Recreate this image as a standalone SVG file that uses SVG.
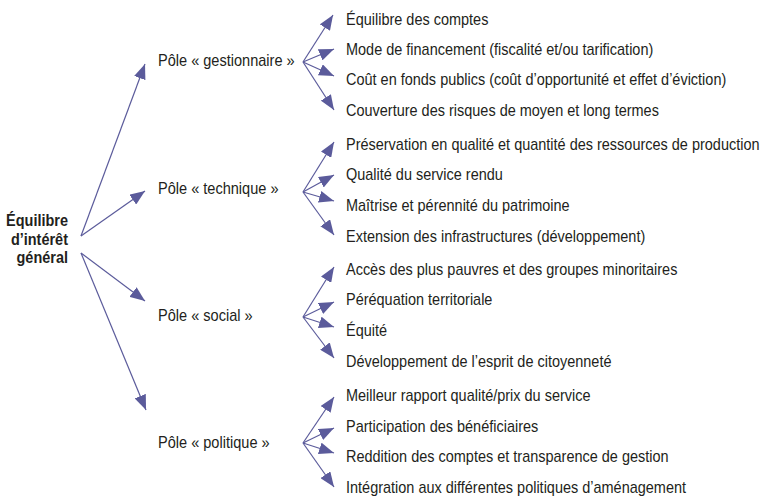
<svg xmlns="http://www.w3.org/2000/svg" width="763" height="499" viewBox="0 0 763 499">
<style>
.t{font-family:"Liberation Sans",Arial,sans-serif;font-size:16px;fill:#231f20}
.b{font-weight:bold;text-anchor:end}
.c line{stroke:#5b5b9b;stroke-width:1.2;marker-end:url(#ah)}
</style>
<defs>
<marker id="ah" viewBox="0 0 15 12" refX="15" refY="6" markerWidth="15" markerHeight="12" markerUnits="userSpaceOnUse" orient="auto">
<path d="M0,0 L15,6 L0,12 z" fill="#5b5b9b"/>
</marker>
</defs>
<rect width="763" height="499" fill="#fff"/>
<g id="connectors" class="c">
<line x1="81" y1="236" x2="145" y2="64"/>
<line x1="81" y1="236" x2="145" y2="191"/>
<line x1="81" y1="253" x2="145" y2="301"/>
<line x1="81" y1="253" x2="146" y2="410"/>
<line x1="303" y1="62" x2="333" y2="15"/>
<line x1="303" y1="62" x2="334" y2="49"/>
<line x1="303" y1="62" x2="334" y2="76"/>
<line x1="303" y1="62" x2="334" y2="110"/>
<line x1="303" y1="192" x2="334" y2="142"/>
<line x1="303" y1="192" x2="334" y2="175"/>
<line x1="303" y1="192" x2="334" y2="201"/>
<line x1="303" y1="192" x2="334" y2="235"/>
<line x1="303" y1="317" x2="334" y2="267"/>
<line x1="303" y1="317" x2="334" y2="302"/>
<line x1="303" y1="317" x2="334" y2="327"/>
<line x1="303" y1="317" x2="334" y2="358"/>
<line x1="303" y1="443" x2="334" y2="397"/>
<line x1="303" y1="443" x2="334" y2="428"/>
<line x1="303" y1="443" x2="334" y2="453"/>
<line x1="303" y1="443" x2="334" y2="487"/>
</g>
<g id="root" transform="translate(68,0) scale(0.905,1)">
<text class="t b" x="0" y="226.5">Équilibre</text>
<text class="t b" x="0" y="245">d’intérêt</text>
<text class="t b" x="0" y="263.5">général</text>
</g>
<g id="pole-gestionnaire" transform="translate(158,66) scale(0.91,1)"><text class="t">Pôle « gestionnaire »</text></g>
<g id="pole-technique" transform="translate(158,194) scale(0.91,1)"><text class="t">Pôle « technique »</text></g>
<g id="pole-social" transform="translate(158,321) scale(0.91,1)"><text class="t">Pôle « social »</text></g>
<g id="pole-politique" transform="translate(158,448) scale(0.91,1)"><text class="t">Pôle « politique »</text></g>
<g id="g1" transform="translate(346,25) scale(0.905,1)"><text class="t">Équilibre des comptes</text></g>
<g id="g2" transform="translate(346,55) scale(0.905,1)"><text class="t">Mode de financement (fiscalité et/ou tarification)</text></g>
<g id="g3" transform="translate(346,85) scale(0.905,1)"><text class="t">Coût en fonds publics (coût d’opportunité et effet d’éviction)</text></g>
<g id="g4" transform="translate(346,116) scale(0.905,1)"><text class="t">Couverture des risques de moyen et long termes</text></g>
<g id="t1" transform="translate(346,150) scale(0.905,1)"><text class="t">Préservation en qualité et quantité des ressources de production</text></g>
<g id="t2" transform="translate(346,180) scale(0.905,1)"><text class="t">Qualité du service rendu</text></g>
<g id="t3" transform="translate(346,211) scale(0.905,1)"><text class="t">Maîtrise et pérennité du patrimoine</text></g>
<g id="t4" transform="translate(346,242) scale(0.905,1)"><text class="t">Extension des infrastructures (développement)</text></g>
<g id="s1" transform="translate(346,275) scale(0.905,1)"><text class="t">Accès des plus pauvres et des groupes minoritaires</text></g>
<g id="s2" transform="translate(346,305) scale(0.905,1)"><text class="t">Péréquation territoriale</text></g>
<g id="s3" transform="translate(346,336) scale(0.905,1)"><text class="t">Équité</text></g>
<g id="s4" transform="translate(346,367) scale(0.905,1)"><text class="t">Développement de l’esprit de citoyenneté</text></g>
<g id="p1" transform="translate(346,401) scale(0.905,1)"><text class="t">Meilleur rapport qualité/prix du service</text></g>
<g id="p2" transform="translate(346,432) scale(0.905,1)"><text class="t">Participation des bénéficiaires</text></g>
<g id="p3" transform="translate(346,462) scale(0.905,1)"><text class="t">Reddition des comptes et transparence de gestion</text></g>
<g id="p4" transform="translate(346,493) scale(0.905,1)"><text class="t">Intégration aux différentes politiques d’aménagement</text></g>
</svg>
